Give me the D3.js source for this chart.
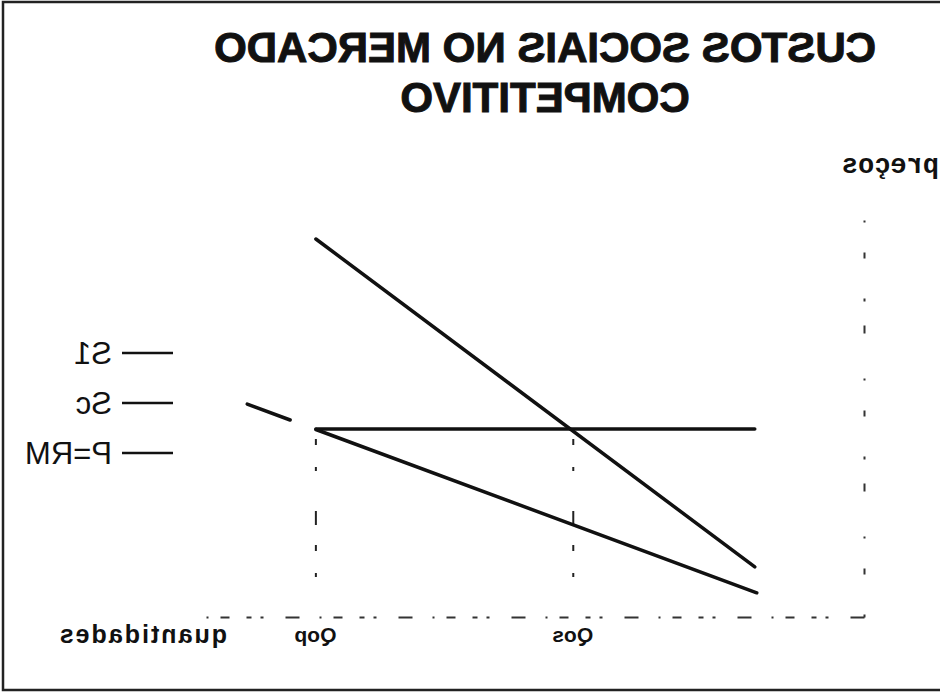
<!DOCTYPE html>
<html>
<head>
<meta charset="utf-8">
<script src="https://cdn.jsdelivr.net/npm/d3@7"></script>
<style>
  html, body { margin: 0; padding: 0; background: #fff; }
  svg { display: block; }
</style>
</head>
<body>
<div class="graph-custos"></div>
<script>
const titleLines = ['CUSTOS SOCIAIS NO MERCADO', 'COMPETITIVO']
const quantityDomain = [0, 100]
const priceDomain = [0, 100]
const quantityTicks = [83.2, 44.2]
const quantityTickLabels = ['Qop', 'Qos']
const socialCost = [[16.7, 11.6], [83.2, 87.5]]
const privateCost = [[16.4, 5.6], [83.2, 43.4]]
const privateCostTail = [[87.1, 45.6], [93.6, 49.3]]
const marketPrice = [[16.7, 43.5], [83.2, 43.5]]
const guideLevels = [83.2, 44.2]
const curveLabels = ['S1', 'Sc', 'P=RM']
const axisNames = { x: 'quantidades', y: 'preços' }

const width = 940
const height = 694
const plot = { left: 75, right: 735, top: 185, bottom: 617 }
const ink = '#111'

const svg = d3.select('.graph-custos')
  .append('svg')
  .attr('width', width)
  .attr('height', height)

// frame of the scan (cut on the right side)
svg.append('path')
  .attr('d', 'M940,2H3V690H940')
  .attr('fill', 'none')
  .attr('stroke', '#222')
  .attr('stroke-width', 2.5)

// the whole figure is drawn normally, then flipped like the reference
const g = svg.append('g')
  .attr('transform', 'translate(' + width + ',0) scale(-1,1)')

const x = d3.scaleLinear().domain(quantityDomain).range([plot.left, plot.right])
const y = d3.scaleLinear().domain(priceDomain).range([plot.bottom, plot.top])

// title
g.selectAll('text.title')
  .data(titleLines)
  .join('text')
  .attr('class', 'title')
  .attr('x', 395)
  .attr('y', (d, i) => 62 + i * 50)
  .attr('text-anchor', 'middle')
  .attr('font-family', 'Liberation Sans, Arial, sans-serif')
  .attr('font-weight', 'bold')
  .attr('font-size', 42)
  .attr('fill', ink)
  .attr('stroke', ink)
  .attr('stroke-width', 1)
  .text(d => d)

// axes, broken dashes like the photocopy
const xAxis = g.append('g')
  .attr('class', 'x axis')
  .attr('transform', 'translate(0,' + plot.bottom + ')')
  .call(d3.axisBottom(x)
    .tickValues(quantityTicks)
    .tickFormat((d, i) => quantityTickLabels[i])
    .tickSize(0)
    .tickPadding(10))

xAxis.select('.domain')
  .attr('stroke', '#333')
  .attr('stroke-width', 2)
  .attr('stroke-dasharray', '14,22,3,9,5,17,9,12,2,20')

xAxis.selectAll('text')
  .attr('font-family', 'Liberation Sans, Arial, sans-serif')
  .attr('font-weight', 'bold')
  .attr('font-size', 21)
  .attr('fill', ink)

const yAxis = g.append('g')
  .attr('class', 'y axis')
  .attr('transform', 'translate(' + plot.left + ',0)')
  .call(d3.axisLeft(y).tickValues([]).tickSizeOuter(0))

yAxis.select('.domain')
  .attr('stroke', '#333')
  .attr('stroke-width', 2)
  .attr('stroke-dasharray', '3,40,6,30,2,45,8,24')

g.append('text')
  .text(axisNames.y)
  .attr('x', 1)
  .attr('y', 173)
  .attr('font-family', 'Liberation Mono, Courier New, monospace')
  .attr('font-weight', 'bold')
  .attr('font-size', 27)
  .attr('fill', ink)

g.append('text')
  .text(axisNames.x)
  .attr('x', 713)
  .attr('y', 643)
  .attr('font-family', 'Liberation Sans, Arial, sans-serif')
  .attr('font-weight', 'bold')
  .attr('font-size', 25)
  .attr('letter-spacing', 2)
  .attr('fill', ink)

// dashed guides down to the quantity axis
g.selectAll('line.guide')
  .data(guideLevels)
  .join('line')
  .attr('class', 'guide')
  .attr('x1', d => x(d))
  .attr('x2', d => x(d))
  .attr('y1', y(marketPrice[0][1]) + 10)
  .attr('y2', plot.bottom - 6)
  .attr('stroke', '#222')
  .attr('stroke-width', 2)
  .attr('stroke-dasharray', '6,22,4,40,14,20')

// curves
const line = d3.line().x(d => x(d[0])).y(d => y(d[1]))

g.selectAll('path.curve')
  .data([socialCost, privateCost, privateCostTail, marketPrice])
  .join('path')
  .attr('class', 'curve')
  .attr('d', line)
  .attr('fill', 'none')
  .attr('stroke', ink)
  .attr('stroke-width', 3.5)
  .attr('stroke-linecap', 'round')

// labels on the side
const labelRows = g.selectAll('g.label')
  .data(curveLabels)
  .join('g')
  .attr('class', 'label')
  .attr('transform', (d, i) => 'translate(767,' + (353 + i * 50) + ')')

labelRows.append('line')
  .attr('x1', 0)
  .attr('x2', 51)
  .attr('stroke', ink)
  .attr('stroke-width', 2.5)

labelRows.append('text')
  .text(d => d)
  .attr('x', 61)
  .attr('y', 11)
  .attr('font-family', 'Liberation Sans, Arial, sans-serif')
  .attr('font-size', 31)
  .attr('fill', ink)
</script>
</body>
</html>
